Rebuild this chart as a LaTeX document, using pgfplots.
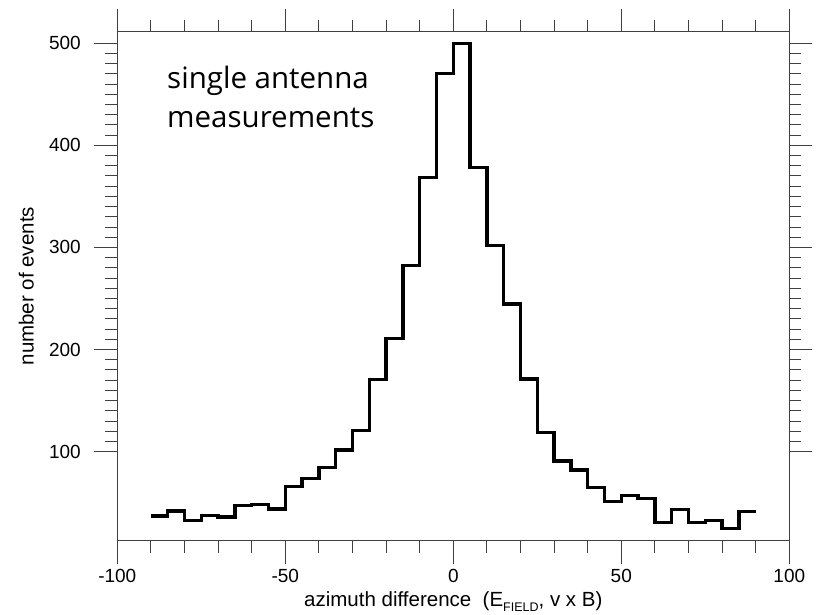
\documentclass[border=0pt]{standalone}
\usepackage{pgfplots}
\pgfplotsset{compat=1.18}
\usepackage{fontspec}
\setmainfont{Liberation Sans}
\newfontfamily\notefont{Open Sans}
\begin{document}
\begin{tikzpicture}
\begin{axis}[
  scale only axis, width=672pt, height=509pt,
  xmin=-100, xmax=100, ymin=12.8, ymax=511.3,
  xtick={-100,-50,0,50,100}, minor x tick num=4,
  ytick={100,200,300,400,500}, minor y tick num=9,
  tick align=outside, major tick length=23pt, minor tick length=12pt,
  axis line style={black!75, line width=1pt},
  every tick/.style={black!75, line width=1pt},
  tick pos=both,
  /pgf/number format/assume math mode=true,
  ticklabel style={font=\fontsize{19}{22}\selectfont},
  xticklabel style={yshift=-2pt},
  yticklabel style={xshift=-10pt},
  xlabel={azimuth difference\ \ (E\raisebox{-0.45ex}{\fontsize{12.5}{13}\selectfont FIELD}, v x B)},
  ylabel={number of events},
  label style={font=\fontsize{20.5}{24}\selectfont},
  xlabel style={at={(axis description cs:0.5,0)}, anchor=base, yshift=-66pt},
  ylabel style={at={(axis description cs:0,0.5)}, anchor=center, yshift=91pt},
  clip=false,
]
\addplot[const plot, black, line width=3.3pt, line join=miter] coordinates {
(-90,37.0) (-85,41.9) (-80,32.4) (-75,37.7) (-70,36.0) (-65,47.1)
(-60,48.1) (-55,43.9) (-50,65.7) (-45,73.6) (-40,84.7) (-35,101.7)
(-30,121) (-25,170.9) (-20,211.1) (-15,282.2) (-10,368.8) (-5,470.6)
(0,500) (5,378.2) (10,301.8) (15,244.7) (20,171.2) (25,119)
(30,90.9) (35,82.1) (40,65.1) (45,51) (50,56.9) (55,54.4)
(60,30.9) (65,43.2) (70,30.9) (75,32.8) (80,25) (85,41.2) (90,41.2)
};
\node[anchor=base west, align=left, font=\notefont\fontsize{29.5}{39}\selectfont, inner sep=0pt]
  at (axis cs:-85.2,417) {single antenna\\measurements};
\end{axis}
\path (current axis.south west) ++(-117.3pt,-73.3pt) coordinate (bbA);
\path (current axis.north east) ++(29.7pt,31.7pt) coordinate (bbB);
\path (bbA) rectangle (bbB);
\end{tikzpicture}
\end{document}
